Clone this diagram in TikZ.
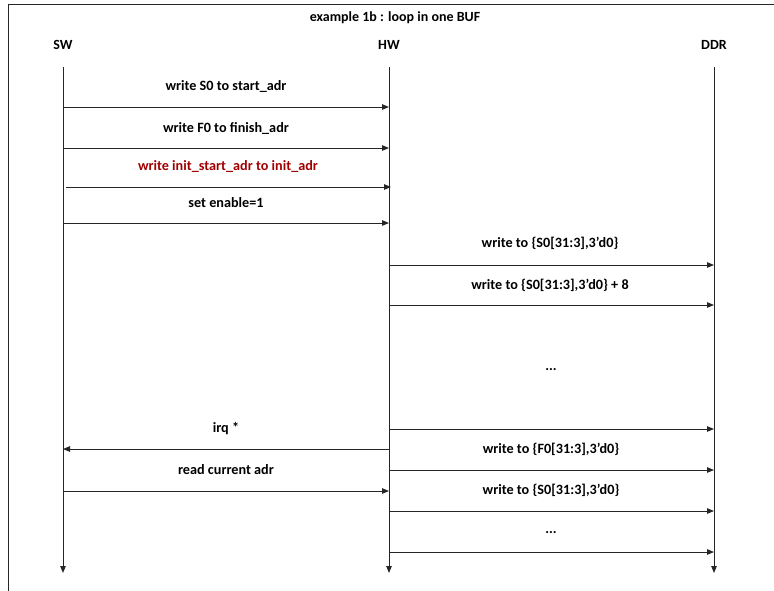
\documentclass[tikz,border=0pt]{standalone}
\usepackage{fontspec}
\setmainfont{Carlito}
\usetikzlibrary{arrows.meta}
\definecolor{lineg}{HTML}{262626}
\definecolor{redtxt}{HTML}{A00000}
\tikzset{
  msg/.style={draw=lineg, line width=1pt, -{Triangle[length=7pt,width=5.5pt]}},
  life/.style={draw=lineg, line width=1pt, -{Triangle[length=7pt,width=5.5pt]}},
  lbl/.style={font=\bfseries\fontsize{14.2}{15}\selectfont, inner sep=0pt, anchor=center},
  head/.style={font=\bfseries\fontsize{14}{15}\selectfont, inner sep=0pt},
  frameline/.style={draw=lineg, line width=1pt}
}
\begin{document}
\begin{tikzpicture}[x=1pt,y=-1pt]
\useasboundingbox (0,0) rectangle (774,590);
% frame (partially visible)
\coordinate (fbl) at (8,600);
\coordinate (ftl) at (8,4);
\coordinate (ftr) at (780,4);
\draw[frameline] (fbl) -- (ftl) -- (ftr);
% title and heads
\node[head] (title) at (395,18) {example 1b : loop in one BUF};
\node[head] (sw) at (63,45) {SW};
\node[head] (hw) at (389,45) {HW};
\node[head] (ddr) at (714,45) {DDR};
% lifelines
\coordinate (swt) at (63,67);  \coordinate (swb) at (63,573);
\coordinate (hwt) at (389,67); \coordinate (hwb) at (389,573);
\coordinate (ddt) at (714,67); \coordinate (ddb) at (714,573);
\draw[life] (swt) -- (swb);
\draw[life] (hwt) -- (hwb);
\draw[life] (ddt) -- (ddb);
% SW -> HW messages
\coordinate (a1) at (63,107); \coordinate (b1) at (389,107);
\node[lbl] (t1) at (226,87) {write S0 to start\_adr};
\draw[msg] (a1) -- (b1);
\coordinate (a2) at (63,148); \coordinate (b2) at (389,148);
\node[lbl] (t2) at (226,128) {write F0 to finish\_adr};
\draw[msg] (a2) -- (b2);
\coordinate (a3) at (66,187); \coordinate (b3) at (391,187);
\node[lbl,text=redtxt] (t3) at (228,167) {write init\_start\_adr to init\_adr};
\draw[msg] (a3) -- (b3);
\coordinate (a4) at (63,223); \coordinate (b4) at (389,223);
\node[lbl] (t4) at (226,203) {set enable=1};
\draw[msg] (a4) -- (b4);
% HW -> DDR
\coordinate (c5) at (389,265); \coordinate (d5) at (714,265);
\node[lbl] (t5) at (550,243) {write to \{S0[31:3],3'd0\}};
\draw[msg] (c5) -- (d5);
\coordinate (c6) at (389,305); \coordinate (d6) at (714,305);
\node[lbl] (t6) at (550,285) {write to \{S0[31:3],3'd0\} + 8};
\draw[msg] (c6) -- (d6);
\node[lbl] (t7) at (551,370) {...};
\coordinate (c7) at (389,429); \coordinate (d7) at (714,429);
\draw[msg] (c7) -- (d7);
% irq
\node[lbl] (t8) at (226,429) {irq *};
\coordinate (a8) at (63,449); \coordinate (b8) at (389,449);
\draw[msg] (b8) -- (a8);
\node[lbl] (t9) at (551,449) {write to \{F0[31:3],3'd0\}};
\coordinate (c9) at (389,470); \coordinate (d9) at (714,470);
\draw[msg] (c9) -- (d9);
\node[lbl] (t10) at (226,470) {read current adr};
\coordinate (a10) at (63,491); \coordinate (b10) at (389,491);
\draw[msg] (a10) -- (b10);
\node[lbl] (t11) at (551,490) {write to \{S0[31:3],3'd0\}};
\coordinate (c11) at (389,511); \coordinate (d11) at (714,511);
\draw[msg] (c11) -- (d11);
\node[lbl] (t12) at (551,533) {...};
\coordinate (c12) at (389,552); \coordinate (d12) at (714,552);
\draw[msg] (c12) -- (d12);
\end{tikzpicture}
\end{document}
